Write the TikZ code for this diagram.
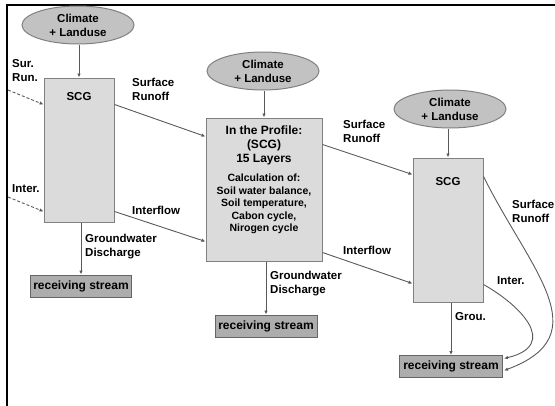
\documentclass[tikz,border=0pt]{standalone}
\usepackage{fontspec}
\setmainfont{Liberation Sans}
\usetikzlibrary{calc,arrows.meta,shapes.geometric}
\definecolor{LineGray}{gray}{0.35}
\definecolor{EdgeGray}{gray}{0.5}
\definecolor{BoxFill}{gray}{0.86}
\definecolor{CloudFill}{gray}{0.76}
\definecolor{StreamFill}{gray}{0.68}
\tikzset{%
	% Style of the climate ellipse
	Climate/.style={ellipse,draw=EdgeGray,fill=CloudFill,line width=1pt,inner sep=0,
		minimum width=112pt,minimum height=38pt,align=center,
		font=\fontsize{11.5}{14}\selectfont\bfseries},
	% Style of the soil column
	Column/.style={rectangle,draw=EdgeGray,fill=BoxFill,line width=1pt,inner sep=0},
	% Style of the receiving stream box
	Stream/.style={rectangle,draw=EdgeGray!80!black,fill=StreamFill,line width=1pt,inner sep=0,
		minimum height=22pt,font=\fontsize{12}{14}\selectfont\bfseries},
	% Style of the text in a column
	ColumnName/.style={align=center,inner sep=0,font=\fontsize{11.5}{14}\selectfont\bfseries},
	% Style of the flow label
	FlowName/.style={anchor=west,align=left,inner sep=0,font=\fontsize{11.5}{14}\selectfont\bfseries},
	% Style of the flow
	Flow/.style={LineGray,line width=0.9pt,-{Latex[length=4pt,width=3.5pt]}},
	Inflow/.style={Flow,dashed,dash pattern=on 3pt off 2pt},
}

\begin{document}
\begin{tikzpicture}[x=1pt,y=-1pt]
\clip (0,0) rectangle (555,405);
\draw[line width=2.5pt] (7,420) -- (7,5) -- (570,5);

%~~~~~~~~~~~~~~~~~~~~~~~~~~~~~~~~~~~~~~~~~~~~~~~~~~
% Set Nodes
%~~~~~~~~~~~~~~~~~~~~~~~~~~~~~~~~~~~~~~~~~~~~~~~~~~
\node[Climate] (E1) at (78, 25) {Climate\\+ Landuse};
\node[Column, minimum width=70pt, minimum height=144pt] (B1) at (79, 150) {};
\node[ColumnName] (B1t) at ($ (B1.north) + (0, 19) $) {SCG};
\node[Stream, minimum width=101pt] (R1) at (81, 286) {receiving stream};

\node[Climate] (E2) at (263, 71) {Climate\\+ Landuse};
\node[Column, minimum width=116pt, minimum height=143pt] (B2) at (264, 189.5) {};
\node[ColumnName, anchor=north, font=\fontsize{12}{14}\selectfont\bfseries] (B2t) at ($ (B2.north) + (0, 8) $) {In the Profile:\\(SCG)\\15 Layers};
\node[ColumnName, anchor=north, font=\fontsize{10.5}{12.5}\selectfont\bfseries] (B2c) at ($ (B2t.south) + (0, 9) $) {Calculation of:\\Soil water balance,\\Soil temperature,\\Cabon cycle,\\Nirogen cycle};
\node[Stream, minimum width=102pt] (R2) at (266, 326) {receiving stream};

\node[Climate] (E3) at (450, 109) {Climate\\+ Landuse};
\node[Column, minimum width=70pt, minimum height=144pt] (B3) at (448, 230) {};
\node[ColumnName] (B3t) at ($ (B3.north) + (0, 24) $) {SCG};
\node[Stream, minimum width=103pt] (R3) at (451, 366.5) {receiving stream};

\coordinate (SurIn) at (8, 90);
\coordinate (InterIn) at (8, 197);

%~~~~~~~~~~~~~~~~~~~~~~~~~~~~~~~~~~~~~~~~~~~~~~~~~~
% Set Branches
%~~~~~~~~~~~~~~~~~~~~~~~~~~~~~~~~~~~~~~~~~~~~~~~~~~
%Branches into column B1
\draw[Flow] (E1.south -| B1.north) -- (B1.north);
\draw[Inflow] (SurIn) -- ($ (B1.north west) + (0, 27) $);
\node[FlowName] (L1) at (12, 71) {Sur.\\Run.};
\draw[Inflow] (InterIn) -- ($ (B1.north west) + (0, 134) $);
\node[FlowName] (L2) at (12, 189) {Inter.};

%Branches from column B1
\draw[Flow] ($ (B1.north east) + (0, 27) $) -- ($ (B2.north west) + (0, 19) $);
\node[FlowName] (L3) at (132, 89) {Surface\\Runoff};
\draw[Flow] ($ (B1.north east) + (0, 134) $) -- ($ (B2.north west) + (0, 124) $);
\node[FlowName] (L4) at (132, 210) {Interflow};
\draw[Flow] (B1.south -| R1.north) -- (R1.north);
\node[FlowName] (L5) at (85, 247) {Groundwater\\Discharge};

%Branches from column B2
\draw[Flow] (E2.south -| B2.north) -- (B2.north);
\draw[Flow] ($ (B2.north east) + (0, 27) $) -- ($ (B3.north west) + (0, 17) $);
\node[FlowName] (L6) at (343, 131) {Surface\\Runoff};
\draw[Flow] ($ (B2.north east) + (0, 135) $) -- ($ (B3.north west) + (0, 126) $);
\node[FlowName] (L7) at (343, 250) {Interflow};
\draw[Flow] (B2.south -| R2.north) -- (R2.north);
\node[FlowName] (L8) at (270, 284) {Groundwater\\Discharge};

%Branches from column B3
\draw[Flow] (E3.south -| B3.north) -- (B3.north);
\draw[Flow] (B3.south -| R3.north) -- (R3.north);
\node[FlowName] (L9) at (455, 317) {Grou.};
\draw[Flow] ($ (B3.north east) + (0, 19) $) ..controls (530, 270) and (600, 335) .. ($ (R3.east) + (1, 4) $);
\node[FlowName] (L10) at (512, 211) {Surface\\Runoff};
\draw[Flow] ($ (B3.north east) + (0, 127) $) ..controls (520, 305) and (560, 345) .. ($ (R3.east) + (1, -8) $);
\node[FlowName] (L11) at (497, 281) {Inter.};

\end{tikzpicture}
\end{document}
